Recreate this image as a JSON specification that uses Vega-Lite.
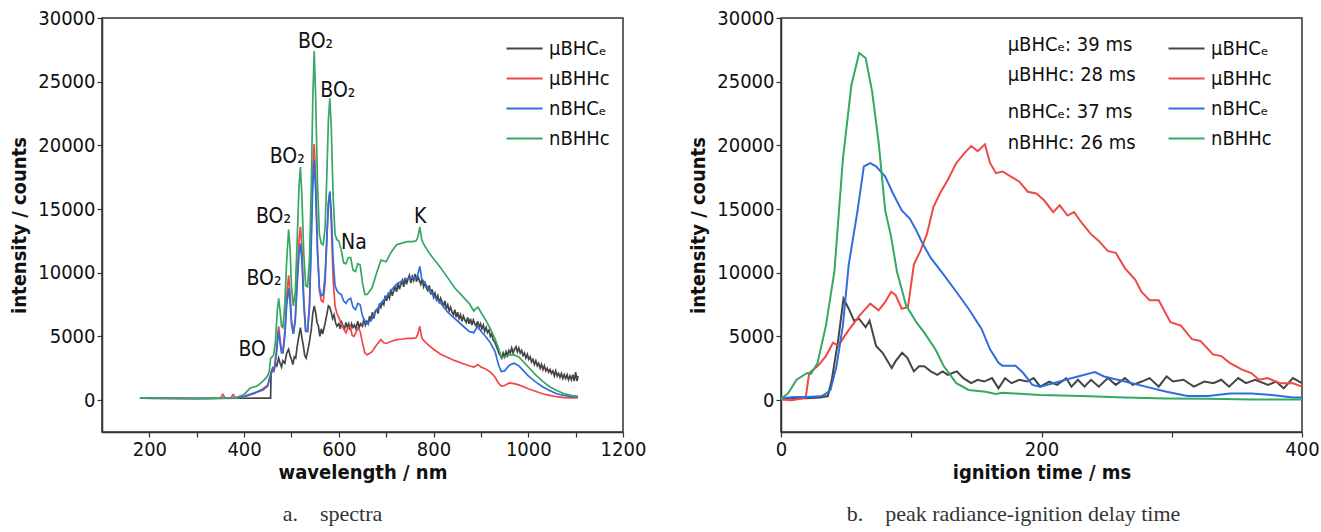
{
  "$schema": "https://vega.github.io/schema/vega-lite/v6.json",
  "autosize": {"type": "pad"},
  "padding": {"left": 9, "top": 7, "right": 0, "bottom": 0},
  "bounds": "flush",
  "spacing": 158,
  "config": {
    "font": "DejaVu Sans Condensed, Liberation Sans Narrow, sans-serif",
    "view": {"stroke": "#333333", "strokeWidth": 1.5},
    "axis": {
      "grid": false, "domainColor": "#333333", "domainWidth": 1.5,
      "tickColor": "#333333", "tickWidth": 1.2, "tickSize": 5,
      "labelFont": "DejaVu Sans Condensed, Liberation Sans Narrow, sans-serif",
      "titleFont": "DejaVu Sans Condensed, Liberation Sans Narrow, sans-serif",
      "labelFontSize": 20, "labelColor": "#111111", "labelPadding": 2,
      "titleFontSize": 20, "titleColor": "#111111", "titleFontWeight": "bold"
    },
    "legend": {
      "orient": "none", "title": null, "symbolType": "stroke", "symbolSize": 1300,
      "symbolStrokeWidth": 2.2, "labelFontSize": 20, "labelColor": "#111111",
      "labelFont": "DejaVu Sans Condensed, Liberation Sans Narrow, sans-serif",
      "rowPadding": -5, "labelOffset": 5
    },
    "title": {"orient": "bottom", "font": "Liberation Serif, DejaVu Serif, serif", "fontSize": 22, "fontWeight": "normal", "color": "#333333", "offset": 22}
  },
  "resolve": {"legend": {"color": "independent"}},
  "hconcat": [
    {
      "width": 521, "height": 414,
      "title": {"text": "a.\u00a0\u00a0\u00a0\u00a0spectra", "dx": -30},
      "layer": [
        {
          "data": {"values": [
            {"s":"μBHCₑ","x":180,"y":150},{"s":"μBHCₑ","x":250,"y":140},{"s":"μBHCₑ","x":320,"y":130},{"s":"μBHCₑ","x":400,"y":150},{"s":"μBHCₑ","x":456,"y":160},{"s":"μBHCₑ","x":457,"y":2200},{"s":"μBHCₑ","x":460,"y":2500},{"s":"μBHCₑ","x":463,"y":2300},{"s":"μBHCₑ","x":466,"y":2900},{"s":"μBHCₑ","x":469,"y":2700},{"s":"μBHCₑ","x":473,"y":3300},{"s":"μBHCₑ","x":476,"y":2900},{"s":"μBHCₑ","x":479,"y":2600},{"s":"μBHCₑ","x":482,"y":3100},{"s":"μBHCₑ","x":486,"y":2900},{"s":"μBHCₑ","x":490,"y":3700},{"s":"μBHCₑ","x":494,"y":4000},{"s":"μBHCₑ","x":497,"y":3500},{"s":"μBHCₑ","x":500,"y":3200},{"s":"μBHCₑ","x":503,"y":2800},{"s":"μBHCₑ","x":506,"y":3400},{"s":"μBHCₑ","x":509,"y":3300},{"s":"μBHCₑ","x":512,"y":4200},{"s":"μBHCₑ","x":516,"y":5100},{"s":"μBHCₑ","x":519,"y":5700},{"s":"μBHCₑ","x":522,"y":4900},{"s":"μBHCₑ","x":525,"y":4300},{"s":"μBHCₑ","x":528,"y":3500},{"s":"μBHCₑ","x":531,"y":3300},{"s":"μBHCₑ","x":534,"y":3800},{"s":"μBHCₑ","x":538,"y":4600},{"s":"μBHCₑ","x":542,"y":5600},{"s":"μBHCₑ","x":545,"y":6800},{"s":"μBHCₑ","x":548,"y":7400},{"s":"μBHCₑ","x":551,"y":6900},{"s":"μBHCₑ","x":554,"y":6100},{"s":"μBHCₑ","x":557,"y":5800},{"s":"μBHCₑ","x":560,"y":5000},{"s":"μBHCₑ","x":563,"y":5600},{"s":"μBHCₑ","x":566,"y":5200},{"s":"μBHCₑ","x":569,"y":5700},{"s":"μBHCₑ","x":572,"y":6200},{"s":"μBHCₑ","x":575,"y":6800},{"s":"μBHCₑ","x":578,"y":7400},{"s":"μBHCₑ","x":581,"y":7300},{"s":"μBHCₑ","x":584,"y":6900},{"s":"μBHCₑ","x":587,"y":6400},{"s":"μBHCₑ","x":590,"y":6700},{"s":"μBHCₑ","x":593,"y":6100},{"s":"μBHCₑ","x":596,"y":5800},{"s":"μBHCₑ","x":600,"y":6000},{"s":"μBHCₑ","x":603,"y":5600},{"s":"μBHCₑ","x":606,"y":6100},{"s":"μBHCₑ","x":609,"y":5800},{"s":"μBHCₑ","x":612,"y":5600},{"s":"μBHCₑ","x":615,"y":6100},{"s":"μBHCₑ","x":618,"y":5700},{"s":"μBHCₑ","x":621,"y":6000},{"s":"μBHCₑ","x":624,"y":5500},{"s":"μBHCₑ","x":627,"y":6000},{"s":"μBHCₑ","x":630,"y":5700},{"s":"μBHCₑ","x":633,"y":5900},{"s":"μBHCₑ","x":636,"y":5600},{"s":"μBHCₑ","x":640,"y":6200},{"s":"μBHCₑ","x":643,"y":5700},{"s":"μBHCₑ","x":646,"y":6000},{"s":"μBHCₑ","x":650,"y":5800},{"s":"μBHCₑ","x":653,"y":6400},{"s":"μBHCₑ","x":656,"y":5900},{"s":"μBHCₑ","x":659,"y":6200},{"s":"μBHCₑ","x":662,"y":6000},{"s":"μBHCₑ","x":665,"y":6600},{"s":"μBHCₑ","x":668,"y":6200},{"s":"μBHCₑ","x":671,"y":6900},{"s":"μBHCₑ","x":674,"y":6400},{"s":"μBHCₑ","x":677,"y":7000},{"s":"μBHCₑ","x":680,"y":7100},{"s":"μBHCₑ","x":683,"y":6800},{"s":"μBHCₑ","x":686,"y":7600},{"s":"μBHCₑ","x":689,"y":7300},{"s":"μBHCₑ","x":692,"y":7700},{"s":"μBHCₑ","x":695,"y":7500},{"s":"μBHCₑ","x":698,"y":8200},{"s":"μBHCₑ","x":701,"y":7800},{"s":"μBHCₑ","x":704,"y":8300},{"s":"μBHCₑ","x":707,"y":8000},{"s":"μBHCₑ","x":710,"y":8700},{"s":"μBHCₑ","x":713,"y":8200},{"s":"μBHCₑ","x":716,"y":8600},{"s":"μBHCₑ","x":719,"y":8900},{"s":"μBHCₑ","x":722,"y":8500},{"s":"μBHCₑ","x":725,"y":9200},{"s":"μBHCₑ","x":728,"y":8700},{"s":"μBHCₑ","x":731,"y":9100},{"s":"μBHCₑ","x":734,"y":9400},{"s":"μBHCₑ","x":737,"y":8900},{"s":"μBHCₑ","x":740,"y":9600},{"s":"μBHCₑ","x":743,"y":9100},{"s":"μBHCₑ","x":746,"y":9500},{"s":"μBHCₑ","x":749,"y":9800},{"s":"μBHCₑ","x":752,"y":9200},{"s":"μBHCₑ","x":755,"y":9700},{"s":"μBHCₑ","x":758,"y":9400},{"s":"μBHCₑ","x":761,"y":9900},{"s":"μBHCₑ","x":764,"y":9300},{"s":"μBHCₑ","x":767,"y":9700},{"s":"μBHCₑ","x":770,"y":9400},{"s":"μBHCₑ","x":773,"y":9100},{"s":"μBHCₑ","x":776,"y":9500},{"s":"μBHCₑ","x":779,"y":8900},{"s":"μBHCₑ","x":782,"y":9200},{"s":"μBHCₑ","x":785,"y":8800},{"s":"μBHCₑ","x":788,"y":8600},{"s":"μBHCₑ","x":791,"y":9000},{"s":"μBHCₑ","x":794,"y":8300},{"s":"μBHCₑ","x":797,"y":8700},{"s":"μBHCₑ","x":800,"y":8100},{"s":"μBHCₑ","x":803,"y":8400},{"s":"μBHCₑ","x":806,"y":7900},{"s":"μBHCₑ","x":809,"y":8200},{"s":"μBHCₑ","x":812,"y":7600},{"s":"μBHCₑ","x":815,"y":8000},{"s":"μBHCₑ","x":818,"y":7700},{"s":"μBHCₑ","x":821,"y":7400},{"s":"μBHCₑ","x":824,"y":7800},{"s":"μBHCₑ","x":827,"y":7200},{"s":"μBHCₑ","x":830,"y":7500},{"s":"μBHCₑ","x":833,"y":7000},{"s":"μBHCₑ","x":836,"y":7300},{"s":"μBHCₑ","x":839,"y":6900},{"s":"μBHCₑ","x":842,"y":6700},{"s":"μBHCₑ","x":845,"y":7100},{"s":"μBHCₑ","x":848,"y":6500},{"s":"μBHCₑ","x":851,"y":6900},{"s":"μBHCₑ","x":854,"y":6400},{"s":"μBHCₑ","x":857,"y":6700},{"s":"μBHCₑ","x":860,"y":6200},{"s":"μBHCₑ","x":863,"y":6600},{"s":"μBHCₑ","x":866,"y":6300},{"s":"μBHCₑ","x":869,"y":6100},{"s":"μBHCₑ","x":872,"y":6500},{"s":"μBHCₑ","x":875,"y":6000},{"s":"μBHCₑ","x":878,"y":6400},{"s":"μBHCₑ","x":881,"y":5900},{"s":"μBHCₑ","x":884,"y":6300},{"s":"μBHCₑ","x":887,"y":6000},{"s":"μBHCₑ","x":890,"y":5800},{"s":"μBHCₑ","x":893,"y":6200},{"s":"μBHCₑ","x":896,"y":5700},{"s":"μBHCₑ","x":899,"y":6000},{"s":"μBHCₑ","x":902,"y":5600},{"s":"μBHCₑ","x":905,"y":5900},{"s":"μBHCₑ","x":908,"y":5400},{"s":"μBHCₑ","x":911,"y":5700},{"s":"μBHCₑ","x":914,"y":5300},{"s":"μBHCₑ","x":917,"y":5500},{"s":"μBHCₑ","x":920,"y":5000},{"s":"μBHCₑ","x":923,"y":5200},{"s":"μBHCₑ","x":926,"y":4700},{"s":"μBHCₑ","x":929,"y":4600},{"s":"μBHCₑ","x":932,"y":4300},{"s":"μBHCₑ","x":935,"y":4000},{"s":"μBHCₑ","x":938,"y":3700},{"s":"μBHCₑ","x":941,"y":3500},{"s":"μBHCₑ","x":944,"y":3300},{"s":"μBHCₑ","x":947,"y":3700},{"s":"μBHCₑ","x":950,"y":3400},{"s":"μBHCₑ","x":953,"y":3800},{"s":"μBHCₑ","x":956,"y":3500},{"s":"μBHCₑ","x":959,"y":3900},{"s":"μBHCₑ","x":962,"y":3700},{"s":"μBHCₑ","x":965,"y":4100},{"s":"μBHCₑ","x":968,"y":3700},{"s":"μBHCₑ","x":971,"y":4000},{"s":"μBHCₑ","x":974,"y":4200},{"s":"μBHCₑ","x":977,"y":3800},{"s":"μBHCₑ","x":980,"y":4100},{"s":"μBHCₑ","x":983,"y":3700},{"s":"μBHCₑ","x":986,"y":3900},{"s":"μBHCₑ","x":989,"y":3500},{"s":"μBHCₑ","x":992,"y":3700},{"s":"μBHCₑ","x":995,"y":3300},{"s":"μBHCₑ","x":998,"y":3600},{"s":"μBHCₑ","x":1001,"y":3200},{"s":"μBHCₑ","x":1004,"y":3400},{"s":"μBHCₑ","x":1007,"y":3000},{"s":"μBHCₑ","x":1010,"y":3200},{"s":"μBHCₑ","x":1013,"y":2800},{"s":"μBHCₑ","x":1016,"y":3100},{"s":"μBHCₑ","x":1019,"y":2700},{"s":"μBHCₑ","x":1022,"y":2900},{"s":"μBHCₑ","x":1025,"y":2500},{"s":"μBHCₑ","x":1028,"y":2800},{"s":"μBHCₑ","x":1031,"y":2400},{"s":"μBHCₑ","x":1034,"y":2700},{"s":"μBHCₑ","x":1037,"y":2300},{"s":"μBHCₑ","x":1040,"y":2500},{"s":"μBHCₑ","x":1043,"y":2200},{"s":"μBHCₑ","x":1046,"y":2400},{"s":"μBHCₑ","x":1049,"y":2100},{"s":"μBHCₑ","x":1052,"y":2300},{"s":"μBHCₑ","x":1055,"y":1900},{"s":"μBHCₑ","x":1058,"y":2300},{"s":"μBHCₑ","x":1061,"y":1900},{"s":"μBHCₑ","x":1064,"y":2100},{"s":"μBHCₑ","x":1067,"y":1800},{"s":"μBHCₑ","x":1070,"y":2100},{"s":"μBHCₑ","x":1073,"y":1700},{"s":"μBHCₑ","x":1076,"y":2000},{"s":"μBHCₑ","x":1079,"y":1700},{"s":"μBHCₑ","x":1082,"y":2000},{"s":"μBHCₑ","x":1085,"y":1600},{"s":"μBHCₑ","x":1088,"y":1900},{"s":"μBHCₑ","x":1091,"y":1600},{"s":"μBHCₑ","x":1094,"y":2000},{"s":"μBHCₑ","x":1097,"y":1500},{"s":"μBHCₑ","x":1100,"y":2200},{"s":"μBHCₑ","x":1103,"y":1500},{"s":"μBHCₑ","x":1105,"y":1900},
            {"s":"μBHHc","x":180,"y":150},{"s":"μBHHc","x":250,"y":140},{"s":"μBHHc","x":300,"y":130},{"s":"μBHHc","x":350,"y":150},{"s":"μBHHc","x":355,"y":450},{"s":"μBHHc","x":360,"y":170},{"s":"μBHHc","x":372,"y":170},{"s":"μBHHc","x":377,"y":450},{"s":"μBHHc","x":382,"y":170},{"s":"μBHHc","x":400,"y":250},{"s":"μBHHc","x":420,"y":500},{"s":"μBHHc","x":440,"y":900},{"s":"μBHHc","x":450,"y":1200},{"s":"μBHHc","x":455,"y":1900},{"s":"μBHHc","x":460,"y":2400},{"s":"μBHHc","x":464,"y":2600},{"s":"μBHHc","x":468,"y":3800},{"s":"μBHHc","x":471,"y":5200},{"s":"μBHHc","x":473,"y":5800},{"s":"μBHHc","x":476,"y":4800},{"s":"μBHHc","x":479,"y":3900},{"s":"μBHHc","x":482,"y":3800},{"s":"μBHHc","x":486,"y":5400},{"s":"μBHHc","x":490,"y":8200},{"s":"μBHHc","x":494,"y":9800},{"s":"μBHHc","x":497,"y":8500},{"s":"μBHHc","x":500,"y":6300},{"s":"μBHHc","x":504,"y":5200},{"s":"μBHHc","x":508,"y":6400},{"s":"μBHHc","x":512,"y":9800},{"s":"μBHHc","x":516,"y":12600},{"s":"μBHHc","x":519,"y":13600},{"s":"μBHHc","x":522,"y":12000},{"s":"μBHHc","x":526,"y":8000},{"s":"μBHHc","x":530,"y":5500},{"s":"μBHHc","x":534,"y":5400},{"s":"μBHHc","x":538,"y":7500},{"s":"μBHHc","x":542,"y":13500},{"s":"μBHHc","x":545,"y":18200},{"s":"μBHHc","x":548,"y":20100},{"s":"μBHHc","x":551,"y":17500},{"s":"μBHHc","x":555,"y":12000},{"s":"μBHHc","x":559,"y":8600},{"s":"μBHHc","x":563,"y":7800},{"s":"μBHHc","x":567,"y":7700},{"s":"μBHHc","x":571,"y":9200},{"s":"μBHHc","x":575,"y":12800},{"s":"μBHHc","x":578,"y":15400},{"s":"μBHHc","x":581,"y":16300},{"s":"μBHHc","x":584,"y":14000},{"s":"μBHHc","x":588,"y":9500},{"s":"μBHHc","x":592,"y":7400},{"s":"μBHHc","x":596,"y":6800},{"s":"μBHHc","x":600,"y":6500},{"s":"μBHHc","x":605,"y":6000},{"s":"μBHHc","x":610,"y":5600},{"s":"μBHHc","x":615,"y":5300},{"s":"μBHHc","x":620,"y":5700},{"s":"μBHHc","x":624,"y":5800},{"s":"μBHHc","x":628,"y":5100},{"s":"μBHHc","x":632,"y":5000},{"s":"μBHHc","x":636,"y":5300},{"s":"μBHHc","x":640,"y":5650},{"s":"μBHHc","x":645,"y":5400},{"s":"μBHHc","x":650,"y":4500},{"s":"μBHHc","x":655,"y":3700},{"s":"μBHHc","x":660,"y":3550},{"s":"μBHHc","x":670,"y":3800},{"s":"μBHHc","x":680,"y":4350},{"s":"μBHHc","x":689,"y":4750},{"s":"μBHHc","x":695,"y":4500},{"s":"μBHHc","x":700,"y":4450},{"s":"μBHHc","x":710,"y":4600},{"s":"μBHHc","x":722,"y":4750},{"s":"μBHHc","x":735,"y":4800},{"s":"μBHHc","x":745,"y":4850},{"s":"μBHHc","x":755,"y":4850},{"s":"μBHHc","x":763,"y":4900},{"s":"μBHHc","x":767,"y":5200},{"s":"μBHHc","x":771,"y":5800},{"s":"μBHHc","x":775,"y":4900},{"s":"μBHHc","x":780,"y":4650},{"s":"μBHHc","x":790,"y":4300},{"s":"μBHHc","x":800,"y":4000},{"s":"μBHHc","x":815,"y":3600},{"s":"μBHHc","x":830,"y":3350},{"s":"μBHHc","x":845,"y":3100},{"s":"μBHHc","x":860,"y":2900},{"s":"μBHHc","x":875,"y":2700},{"s":"μBHHc","x":885,"y":2600},{"s":"μBHHc","x":890,"y":2700},{"s":"μBHHc","x":894,"y":2800},{"s":"μBHHc","x":900,"y":2600},{"s":"μBHHc","x":910,"y":2450},{"s":"μBHHc","x":920,"y":2200},{"s":"μBHHc","x":930,"y":1800},{"s":"μBHHc","x":937,"y":1350},{"s":"μBHHc","x":943,"y":1100},{"s":"μBHHc","x":950,"y":1150},{"s":"μBHHc","x":960,"y":1350},{"s":"μBHHc","x":970,"y":1300},{"s":"μBHHc","x":980,"y":1200},{"s":"μBHHc","x":990,"y":1050},{"s":"μBHHc","x":1000,"y":900},{"s":"μBHHc","x":1015,"y":700},{"s":"μBHHc","x":1030,"y":500},{"s":"μBHHc","x":1045,"y":380},{"s":"μBHHc","x":1060,"y":270},{"s":"μBHHc","x":1075,"y":200},{"s":"μBHHc","x":1090,"y":180},{"s":"μBHHc","x":1105,"y":170},
            {"s":"nBHCₑ","x":180,"y":150},{"s":"nBHCₑ","x":300,"y":130},{"s":"nBHCₑ","x":380,"y":160},{"s":"nBHCₑ","x":400,"y":300},{"s":"nBHCₑ","x":420,"y":550},{"s":"nBHCₑ","x":440,"y":800},{"s":"nBHCₑ","x":450,"y":1100},{"s":"nBHCₑ","x":455,"y":1900},{"s":"nBHCₑ","x":460,"y":2300},{"s":"nBHCₑ","x":464,"y":2500},{"s":"nBHCₑ","x":468,"y":3500},{"s":"nBHCₑ","x":471,"y":4800},{"s":"nBHCₑ","x":473,"y":5400},{"s":"nBHCₑ","x":476,"y":4500},{"s":"nBHCₑ","x":479,"y":3700},{"s":"nBHCₑ","x":482,"y":3700},{"s":"nBHCₑ","x":486,"y":5000},{"s":"nBHCₑ","x":490,"y":7500},{"s":"nBHCₑ","x":494,"y":8800},{"s":"nBHCₑ","x":497,"y":7800},{"s":"nBHCₑ","x":500,"y":6000},{"s":"nBHCₑ","x":504,"y":5200},{"s":"nBHCₑ","x":508,"y":6200},{"s":"nBHCₑ","x":512,"y":9000},{"s":"nBHCₑ","x":516,"y":11500},{"s":"nBHCₑ","x":519,"y":12300},{"s":"nBHCₑ","x":522,"y":11000},{"s":"nBHCₑ","x":526,"y":7500},{"s":"nBHCₑ","x":530,"y":5400},{"s":"nBHCₑ","x":534,"y":5400},{"s":"nBHCₑ","x":538,"y":7200},{"s":"nBHCₑ","x":542,"y":12500},{"s":"nBHCₑ","x":545,"y":16800},{"s":"nBHCₑ","x":548,"y":18800},{"s":"nBHCₑ","x":551,"y":16500},{"s":"nBHCₑ","x":555,"y":11500},{"s":"nBHCₑ","x":559,"y":8800},{"s":"nBHCₑ","x":563,"y":8200},{"s":"nBHCₑ","x":567,"y":8300},{"s":"nBHCₑ","x":571,"y":9800},{"s":"nBHCₑ","x":575,"y":13000},{"s":"nBHCₑ","x":578,"y":15500},{"s":"nBHCₑ","x":581,"y":16400},{"s":"nBHCₑ","x":584,"y":14800},{"s":"nBHCₑ","x":588,"y":11000},{"s":"nBHCₑ","x":592,"y":9000},{"s":"nBHCₑ","x":596,"y":8600},{"s":"nBHCₑ","x":600,"y":8400},{"s":"nBHCₑ","x":605,"y":8300},{"s":"nBHCₑ","x":610,"y":7800},{"s":"nBHCₑ","x":615,"y":7600},{"s":"nBHCₑ","x":620,"y":7900},{"s":"nBHCₑ","x":625,"y":8000},{"s":"nBHCₑ","x":630,"y":7300},{"s":"nBHCₑ","x":635,"y":7100},{"s":"nBHCₑ","x":640,"y":7600},{"s":"nBHCₑ","x":645,"y":7500},{"s":"nBHCₑ","x":650,"y":6600},{"s":"nBHCₑ","x":655,"y":6200},{"s":"nBHCₑ","x":660,"y":6000},{"s":"nBHCₑ","x":670,"y":6400},{"s":"nBHCₑ","x":680,"y":7100},{"s":"nBHCₑ","x":689,"y":7600},{"s":"nBHCₑ","x":700,"y":8100},{"s":"nBHCₑ","x":710,"y":8600},{"s":"nBHCₑ","x":722,"y":9100},{"s":"nBHCₑ","x":735,"y":9400},{"s":"nBHCₑ","x":745,"y":9550},{"s":"nBHCₑ","x":755,"y":9600},{"s":"nBHCₑ","x":763,"y":9600},{"s":"nBHCₑ","x":767,"y":9900},{"s":"nBHCₑ","x":771,"y":10500},{"s":"nBHCₑ","x":775,"y":9500},{"s":"nBHCₑ","x":780,"y":9300},{"s":"nBHCₑ","x":790,"y":8700},{"s":"nBHCₑ","x":800,"y":8200},{"s":"nBHCₑ","x":815,"y":7600},{"s":"nBHCₑ","x":830,"y":6900},{"s":"nBHCₑ","x":845,"y":6400},{"s":"nBHCₑ","x":860,"y":5900},{"s":"nBHCₑ","x":875,"y":5400},{"s":"nBHCₑ","x":885,"y":5300},{"s":"nBHCₑ","x":890,"y":5600},{"s":"nBHCₑ","x":894,"y":5800},{"s":"nBHCₑ","x":900,"y":5400},{"s":"nBHCₑ","x":910,"y":5000},{"s":"nBHCₑ","x":920,"y":4500},{"s":"nBHCₑ","x":930,"y":3800},{"s":"nBHCₑ","x":937,"y":2800},{"s":"nBHCₑ","x":943,"y":2250},{"s":"nBHCₑ","x":950,"y":2300},{"s":"nBHCₑ","x":960,"y":2750},{"s":"nBHCₑ","x":970,"y":2900},{"s":"nBHCₑ","x":980,"y":2700},{"s":"nBHCₑ","x":990,"y":2300},{"s":"nBHCₑ","x":1000,"y":1900},{"s":"nBHCₑ","x":1015,"y":1450},{"s":"nBHCₑ","x":1030,"y":1050},{"s":"nBHCₑ","x":1045,"y":750},{"s":"nBHCₑ","x":1060,"y":500},{"s":"nBHCₑ","x":1075,"y":380},{"s":"nBHCₑ","x":1090,"y":290},{"s":"nBHCₑ","x":1105,"y":230},
            {"s":"nBHHc","x":180,"y":180},{"s":"nBHHc","x":250,"y":150},{"s":"nBHHc","x":300,"y":120},{"s":"nBHHc","x":380,"y":170},{"s":"nBHHc","x":400,"y":450},{"s":"nBHHc","x":413,"y":950},{"s":"nBHHc","x":427,"y":1100},{"s":"nBHHc","x":437,"y":1400},{"s":"nBHHc","x":448,"y":1800},{"s":"nBHHc","x":453,"y":2200},{"s":"nBHHc","x":456,"y":3300},{"s":"nBHHc","x":462,"y":3500},{"s":"nBHHc","x":466,"y":4500},{"s":"nBHHc","x":470,"y":7000},{"s":"nBHHc","x":473,"y":8000},{"s":"nBHHc","x":476,"y":7000},{"s":"nBHHc","x":479,"y":5800},{"s":"nBHHc","x":482,"y":5700},{"s":"nBHHc","x":486,"y":7500},{"s":"nBHHc","x":490,"y":11000},{"s":"nBHHc","x":494,"y":13400},{"s":"nBHHc","x":497,"y":12000},{"s":"nBHHc","x":500,"y":9000},{"s":"nBHHc","x":504,"y":7400},{"s":"nBHHc","x":508,"y":8500},{"s":"nBHHc","x":512,"y":12500},{"s":"nBHHc","x":516,"y":16800},{"s":"nBHHc","x":519,"y":18300},{"s":"nBHHc","x":522,"y":16000},{"s":"nBHHc","x":526,"y":11500},{"s":"nBHHc","x":530,"y":9000},{"s":"nBHHc","x":534,"y":8900},{"s":"nBHHc","x":538,"y":11000},{"s":"nBHHc","x":542,"y":17000},{"s":"nBHHc","x":545,"y":23500},{"s":"nBHHc","x":548,"y":27400},{"s":"nBHHc","x":551,"y":24000},{"s":"nBHHc","x":555,"y":17000},{"s":"nBHHc","x":559,"y":13000},{"s":"nBHHc","x":563,"y":12300},{"s":"nBHHc","x":567,"y":12200},{"s":"nBHHc","x":571,"y":13500},{"s":"nBHHc","x":575,"y":18000},{"s":"nBHHc","x":578,"y":22000},{"s":"nBHHc","x":581,"y":23700},{"s":"nBHHc","x":584,"y":21500},{"s":"nBHHc","x":588,"y":16000},{"s":"nBHHc","x":592,"y":13000},{"s":"nBHHc","x":596,"y":12600},{"s":"nBHHc","x":600,"y":12500},{"s":"nBHHc","x":605,"y":11800},{"s":"nBHHc","x":610,"y":10800},{"s":"nBHHc","x":615,"y":10700},{"s":"nBHHc","x":620,"y":11200},{"s":"nBHHc","x":625,"y":11200},{"s":"nBHHc","x":630,"y":10200},{"s":"nBHHc","x":635,"y":10100},{"s":"nBHHc","x":640,"y":10700},{"s":"nBHHc","x":645,"y":10600},{"s":"nBHHc","x":650,"y":9200},{"s":"nBHHc","x":655,"y":8300},{"s":"nBHHc","x":660,"y":8300},{"s":"nBHHc","x":670,"y":8800},{"s":"nBHHc","x":680,"y":10000},{"s":"nBHHc","x":689,"y":11000},{"s":"nBHHc","x":700,"y":10860},{"s":"nBHHc","x":710,"y":11600},{"s":"nBHHc","x":722,"y":12200},{"s":"nBHHc","x":735,"y":12350},{"s":"nBHHc","x":745,"y":12450},{"s":"nBHHc","x":755,"y":12450},{"s":"nBHHc","x":763,"y":12500},{"s":"nBHHc","x":767,"y":12800},{"s":"nBHHc","x":771,"y":13600},{"s":"nBHHc","x":775,"y":12600},{"s":"nBHHc","x":780,"y":12200},{"s":"nBHHc","x":790,"y":11600},{"s":"nBHHc","x":800,"y":11100},{"s":"nBHHc","x":815,"y":10400},{"s":"nBHHc","x":830,"y":9600},{"s":"nBHHc","x":845,"y":8800},{"s":"nBHHc","x":860,"y":8200},{"s":"nBHHc","x":875,"y":7600},{"s":"nBHHc","x":885,"y":7000},{"s":"nBHHc","x":890,"y":7200},{"s":"nBHHc","x":894,"y":7300},{"s":"nBHHc","x":900,"y":6900},{"s":"nBHHc","x":910,"y":6300},{"s":"nBHHc","x":920,"y":5600},{"s":"nBHHc","x":930,"y":4800},{"s":"nBHHc","x":937,"y":4100},{"s":"nBHHc","x":943,"y":3400},{"s":"nBHHc","x":950,"y":3400},{"s":"nBHHc","x":960,"y":3550},{"s":"nBHHc","x":970,"y":3550},{"s":"nBHHc","x":980,"y":3400},{"s":"nBHHc","x":990,"y":3000},{"s":"nBHHc","x":1000,"y":2600},{"s":"nBHHc","x":1015,"y":2000},{"s":"nBHHc","x":1030,"y":1500},{"s":"nBHHc","x":1045,"y":1050},{"s":"nBHHc","x":1060,"y":750},{"s":"nBHHc","x":1075,"y":520},{"s":"nBHHc","x":1090,"y":380},{"s":"nBHHc","x":1105,"y":300}
          ]},
          "mark": {"type": "line", "strokeWidth": 1.7},
          "encoding": {
            "x": {"field": "x", "type": "quantitative", "scale": {"domain": [100, 1200], "nice": false},
                  "axis": {"title": "wavelength / nm", "titlePadding": 3, "values": [200,300,400,500,600,700,800,900,1000,1100,1200], "labelExpr": "datum.value % 200 === 0 ? datum.label : ''", "format": "d", "labelFlush": false}},
            "y": {"field": "y", "type": "quantitative", "scale": {"domain": [-2500, 30000], "nice": false, "zero": false},
                  "axis": {"title": "intensity / counts", "values": [0,2500,5000,7500,10000,12500,15000,17500,20000,22500,25000,27500,30000], "labelExpr": "datum.value % 5000 === 0 ? datum.label : ''", "format": "d", "titlePadding": 8}},
            "color": {"field": "s", "type": "nominal", "sort": null,
                      "scale": {"domain": ["μBHCₑ","μBHHc","nBHCₑ","nBHHc"], "range": ["#454545","#f04848","#2f6fdd","#35a862"]},
                      "legend": {"legendX": 403, "legendY": 11}}
          }
        },
        {
          "data": {"values": [
            {"t":"BO₂","x":551,"y":28100},{"t":"BO₂","x":598,"y":24300},{"t":"BO₂","x":491,"y":19100},{"t":"BO₂","x":462,"y":14400},{"t":"BO₂","x":442,"y":9500},{"t":"BO","x":417,"y":3950},{"t":"Na","x":632,"y":12300},{"t":"K","x":772,"y":14400}
          ]},
          "mark": {"type": "text", "fontSize": 21, "color": "#111111", "font": "DejaVu Sans Condensed, Liberation Sans Narrow, sans-serif"},
          "encoding": {
            "x": {"field": "x", "type": "quantitative"},
            "y": {"field": "y", "type": "quantitative"},
            "text": {"field": "t"}
          }
        }
      ]
    },
    {
      "width": 521, "height": 414,
      "title": {"text": "b.\u00a0\u00a0\u00a0\u00a0peak radiance-ignition delay time", "dx": -28},
      "layer": [
        {
          "data": {"values": [
            {"s":"μBHCₑ","x":0,"y":150},{"s":"μBHCₑ","x":10,"y":150},{"s":"μBHCₑ","x":20,"y":150},{"s":"μBHCₑ","x":30,"y":200},{"s":"μBHCₑ","x":36,"y":320},{"s":"μBHCₑ","x":39,"y":1600},{"s":"μBHCₑ","x":44,"y":4790},{"s":"μBHCₑ","x":48,"y":7980},{"s":"μBHCₑ","x":52,"y":7180},{"s":"μBHCₑ","x":56,"y":6250},{"s":"μBHCₑ","x":60,"y":6380},{"s":"μBHCₑ","x":65,"y":5720},{"s":"μBHCₑ","x":68,"y":6250},{"s":"μBHCₑ","x":73,"y":4260},{"s":"μBHCₑ","x":78,"y":3720},{"s":"μBHCₑ","x":85,"y":2530},{"s":"μBHCₑ","x":88,"y":3060},{"s":"μBHCₑ","x":93,"y":3720},{"s":"μBHCₑ","x":97,"y":3320},{"s":"μBHCₑ","x":102,"y":2260},{"s":"μBHCₑ","x":106,"y":2660},{"s":"μBHCₑ","x":110,"y":2660},{"s":"μBHCₑ","x":115,"y":2260},{"s":"μBHCₑ","x":120,"y":1990},{"s":"μBHCₑ","x":124,"y":2260},{"s":"μBHCₑ","x":128,"y":1990},{"s":"μBHCₑ","x":135,"y":2260},{"s":"μBHCₑ","x":140,"y":1730},{"s":"μBHCₑ","x":146,"y":1330},{"s":"μBHCₑ","x":151,"y":1600},{"s":"μBHCₑ","x":156,"y":1460},{"s":"μBHCₑ","x":162,"y":1730},{"s":"μBHCₑ","x":167,"y":930},{"s":"μBHCₑ","x":172,"y":1730},{"s":"μBHCₑ","x":177,"y":1330},{"s":"μBHCₑ","x":183,"y":1600},{"s":"μBHCₑ","x":189,"y":1460},{"s":"μBHCₑ","x":194,"y":1730},{"s":"μBHCₑ","x":199,"y":1060},{"s":"μBHCₑ","x":206,"y":1460},{"s":"μBHCₑ","x":212,"y":1200},{"s":"μBHCₑ","x":219,"y":1730},{"s":"μBHCₑ","x":223,"y":1060},{"s":"μBHCₑ","x":228,"y":1600},{"s":"μBHCₑ","x":233,"y":1060},{"s":"μBHCₑ","x":238,"y":1600},{"s":"μBHCₑ","x":244,"y":1060},{"s":"μBHCₑ","x":251,"y":1730},{"s":"μBHCₑ","x":257,"y":1200},{"s":"μBHCₑ","x":264,"y":1730},{"s":"μBHCₑ","x":270,"y":1200},{"s":"μBHCₑ","x":277,"y":1460},{"s":"μBHCₑ","x":283,"y":1730},{"s":"μBHCₑ","x":290,"y":1060},{"s":"μBHCₑ","x":296,"y":1860},{"s":"μBHCₑ","x":301,"y":1460},{"s":"μBHCₑ","x":309,"y":1600},{"s":"μBHCₑ","x":317,"y":1060},{"s":"μBHCₑ","x":325,"y":1460},{"s":"μBHCₑ","x":332,"y":1330},{"s":"μBHCₑ","x":338,"y":1600},{"s":"μBHCₑ","x":344,"y":1060},{"s":"μBHCₑ","x":351,"y":1730},{"s":"μBHCₑ","x":357,"y":1330},{"s":"μBHCₑ","x":364,"y":1600},{"s":"μBHCₑ","x":374,"y":1200},{"s":"μBHCₑ","x":380,"y":1460},{"s":"μBHCₑ","x":386,"y":930},{"s":"μBHCₑ","x":393,"y":1730},{"s":"μBHCₑ","x":400,"y":1330},
            {"s":"μBHHc","x":0,"y":50},{"s":"μBHHc","x":8,"y":0},{"s":"μBHHc","x":15,"y":100},{"s":"μBHHc","x":19,"y":200},{"s":"μBHHc","x":21.6,"y":2130},{"s":"μBHHc","x":28,"y":2660},{"s":"μBHHc","x":34.5,"y":3460},{"s":"μBHHc","x":40,"y":4520},{"s":"μBHHc","x":44,"y":4260},{"s":"μBHHc","x":50.7,"y":5320},{"s":"μBHHc","x":60.4,"y":6650},{"s":"μBHHc","x":68.5,"y":7580},{"s":"μBHHc","x":75,"y":7050},{"s":"μBHHc","x":80,"y":7710},{"s":"μBHHc","x":84.6,"y":8510},{"s":"μBHHc","x":88,"y":8240},{"s":"μBHHc","x":92.7,"y":7180},{"s":"μBHHc","x":97.5,"y":7310},{"s":"μBHHc","x":102,"y":10640},{"s":"μBHHc","x":107,"y":11700},{"s":"μBHHc","x":112,"y":13030},{"s":"μBHHc","x":117,"y":15160},{"s":"μBHHc","x":122,"y":16220},{"s":"μBHHc","x":128,"y":17290},{"s":"μBHHc","x":134.6,"y":18620},{"s":"μBHHc","x":141,"y":19410},{"s":"μBHHc","x":146,"y":19950},{"s":"μBHHc","x":151,"y":19550},{"s":"μBHHc","x":156.6,"y":20080},{"s":"μBHHc","x":160.5,"y":18620},{"s":"μBHHc","x":165,"y":17820},{"s":"μBHHc","x":170,"y":17950},{"s":"μBHHc","x":176.6,"y":17550},{"s":"μBHHc","x":183,"y":17150},{"s":"μBHHc","x":189.5,"y":16360},{"s":"μBHHc","x":196,"y":16220},{"s":"μBHHc","x":202,"y":15690},{"s":"μBHHc","x":209,"y":14760},{"s":"μBHHc","x":214,"y":15290},{"s":"μBHHc","x":220,"y":14490},{"s":"μBHHc","x":225,"y":14760},{"s":"μBHHc","x":231.5,"y":13830},{"s":"μBHHc","x":238,"y":13030},{"s":"μBHHc","x":244,"y":12500},{"s":"μBHHc","x":251,"y":11700},{"s":"μBHHc","x":257,"y":11570},{"s":"μBHHc","x":264,"y":10370},{"s":"μBHHc","x":272,"y":9440},{"s":"μBHHc","x":276.7,"y":8510},{"s":"μBHHc","x":283,"y":7850},{"s":"μBHHc","x":290,"y":7850},{"s":"μBHHc","x":299,"y":6120},{"s":"μBHHc","x":307,"y":5850},{"s":"μBHHc","x":315.5,"y":4790},{"s":"μBHHc","x":322,"y":4650},{"s":"μBHHc","x":331.6,"y":3590},{"s":"μBHHc","x":338,"y":3460},{"s":"μBHHc","x":344.5,"y":2930},{"s":"μBHHc","x":354,"y":2390},{"s":"μBHHc","x":361,"y":2130},{"s":"μBHHc","x":367,"y":1600},{"s":"μBHHc","x":373.6,"y":1730},{"s":"μBHHc","x":383,"y":1330},{"s":"μBHHc","x":393,"y":1330},{"s":"μBHHc","x":400,"y":1060},
            {"s":"nBHCₑ","x":0,"y":150},{"s":"nBHCₑ","x":10,"y":250},{"s":"nBHCₑ","x":20,"y":250},{"s":"nBHCₑ","x":30,"y":300},{"s":"nBHCₑ","x":33,"y":400},{"s":"nBHCₑ","x":38,"y":800},{"s":"nBHCₑ","x":42.6,"y":2660},{"s":"nBHCₑ","x":47.5,"y":5850},{"s":"nBHCₑ","x":52,"y":10640},{"s":"nBHCₑ","x":58.8,"y":14900},{"s":"nBHCₑ","x":63.6,"y":18350},{"s":"nBHCₑ","x":68.5,"y":18600},{"s":"nBHCₑ","x":73,"y":18350},{"s":"nBHCₑ","x":80,"y":17550},{"s":"nBHCₑ","x":86,"y":16220},{"s":"nBHCₑ","x":92.7,"y":14900},{"s":"nBHCₑ","x":99,"y":14230},{"s":"nBHCₑ","x":104,"y":13300},{"s":"nBHCₑ","x":109,"y":12230},{"s":"nBHCₑ","x":115,"y":11170},{"s":"nBHCₑ","x":125,"y":9840},{"s":"nBHCₑ","x":134.6,"y":8510},{"s":"nBHCₑ","x":144,"y":7180},{"s":"nBHCₑ","x":154,"y":5590},{"s":"nBHCₑ","x":160.5,"y":3990},{"s":"nBHCₑ","x":167,"y":2930},{"s":"nBHCₑ","x":170,"y":2710},{"s":"nBHCₑ","x":180,"y":2710},{"s":"nBHCₑ","x":186,"y":2130},{"s":"nBHCₑ","x":193,"y":1200},{"s":"nBHCₑ","x":199,"y":1060},{"s":"nBHCₑ","x":209,"y":1330},{"s":"nBHCₑ","x":218.6,"y":1600},{"s":"nBHCₑ","x":228,"y":1860},{"s":"nBHCₑ","x":241,"y":2200},{"s":"nBHCₑ","x":248,"y":1860},{"s":"nBHCₑ","x":264,"y":1460},{"s":"nBHCₑ","x":280,"y":1060},{"s":"nBHCₑ","x":296,"y":660},{"s":"nBHCₑ","x":312,"y":320},{"s":"nBHCₑ","x":328,"y":320},{"s":"nBHCₑ","x":344.5,"y":530},{"s":"nBHCₑ","x":361,"y":530},{"s":"nBHCₑ","x":377,"y":400},{"s":"nBHCₑ","x":393,"y":210},{"s":"nBHCₑ","x":400,"y":210},
            {"s":"nBHHc","x":0,"y":100},{"s":"nBHHc","x":5.5,"y":530},{"s":"nBHHc","x":12,"y":1600},{"s":"nBHHc","x":20,"y":2130},{"s":"nBHHc","x":23,"y":2070},{"s":"nBHHc","x":28,"y":2900},{"s":"nBHHc","x":34.5,"y":5850},{"s":"nBHHc","x":41,"y":10100},{"s":"nBHHc","x":47.5,"y":18900},{"s":"nBHHc","x":54,"y":24700},{"s":"nBHHc","x":60,"y":27260},{"s":"nBHHc","x":65,"y":26860},{"s":"nBHHc","x":70,"y":24200},{"s":"nBHHc","x":75,"y":20200},{"s":"nBHHc","x":80,"y":14900},{"s":"nBHHc","x":84.6,"y":12800},{"s":"nBHHc","x":89,"y":10100},{"s":"nBHHc","x":96,"y":7450},{"s":"nBHHc","x":104,"y":6100},{"s":"nBHHc","x":110,"y":5300},{"s":"nBHHc","x":118.5,"y":4000},{"s":"nBHHc","x":125,"y":2660},{"s":"nBHHc","x":134.6,"y":1330},{"s":"nBHHc","x":144,"y":800},{"s":"nBHHc","x":157,"y":660},{"s":"nBHHc","x":165,"y":480},{"s":"nBHHc","x":170,"y":580},{"s":"nBHHc","x":199,"y":400},{"s":"nBHHc","x":231,"y":320},{"s":"nBHHc","x":264,"y":210},{"s":"nBHHc","x":296,"y":130},{"s":"nBHHc","x":328,"y":110},{"s":"nBHHc","x":361,"y":50},{"s":"nBHHc","x":400,"y":50}
          ]},
          "mark": {"type": "line", "strokeWidth": 2},
          "encoding": {
            "x": {"field": "x", "type": "quantitative", "scale": {"domain": [0, 400], "nice": false},
                  "axis": {"title": "ignition time / ms", "titlePadding": 3, "values": [0,100,200,300,400], "labelExpr": "datum.value % 200 === 0 ? datum.label : ''", "format": "d", "labelFlush": false}},
            "y": {"field": "y", "type": "quantitative", "scale": {"domain": [-2500, 30000], "nice": false, "zero": false},
                  "axis": {"title": "intensity / counts", "values": [0,2500,5000,7500,10000,12500,15000,17500,20000,22500,25000,27500,30000], "labelExpr": "datum.value % 5000 === 0 ? datum.label : ''", "format": "d", "titlePadding": 8}},
            "color": {"field": "s", "type": "nominal", "sort": null,
                      "scale": {"domain": ["μBHCₑ","μBHHc","nBHCₑ","nBHHc"], "range": ["#454545","#f04848","#2f6fdd","#35a862"]},
                      "legend": {"legendX": 386, "legendY": 11}}
          }
        },
        {
          "data": {"values": [
            {"t":"μBHCₑ: 39 ms","x":174,"y":27900},{"t":"μBHHc: 28 ms","x":174,"y":25500},{"t":"nBHCₑ: 37 ms","x":174,"y":22600},{"t":"nBHHc: 26 ms","x":174,"y":20200}
          ]},
          "mark": {"type": "text", "align": "left", "fontSize": 20, "color": "#111111", "font": "DejaVu Sans Condensed, Liberation Sans Narrow, sans-serif"},
          "encoding": {
            "x": {"field": "x", "type": "quantitative"},
            "y": {"field": "y", "type": "quantitative"},
            "text": {"field": "t"}
          }
        }
      ]
    }
  ]
}
